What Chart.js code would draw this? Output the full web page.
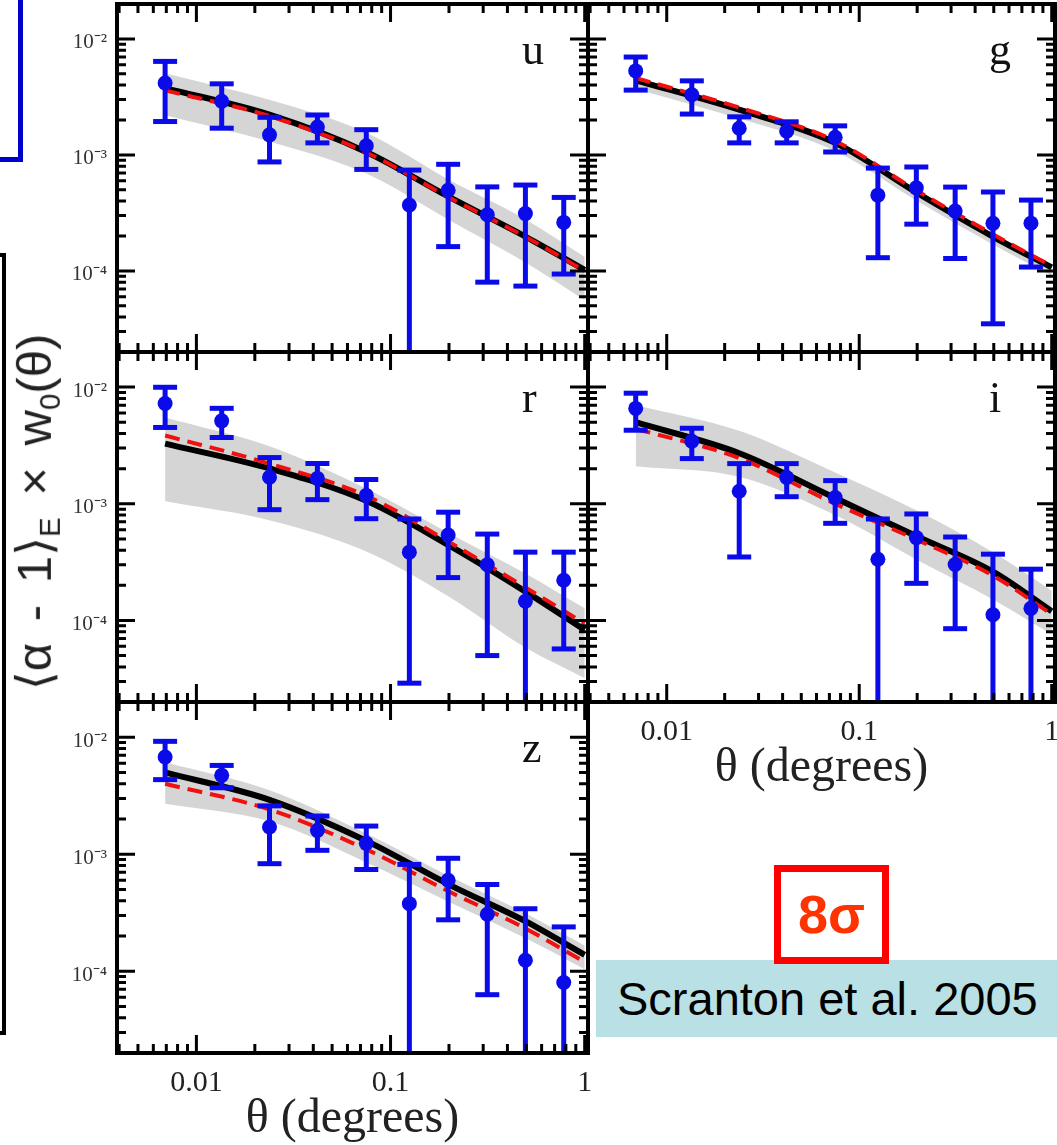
<!DOCTYPE html>
<html>
<head>
<meta charset="utf-8">
<script src="https://cdn.jsdelivr.net/npm/chart.js@4.4.1/dist/chart.umd.min.js"></script>
<style>
  html, body { margin: 0; padding: 0; background: #fff; }
  #wrap { position: relative; width: 1057px; height: 1145px; overflow: hidden; background: #fff; }
  canvas.panel { position: absolute; left: -50px; top: -50px; }
  #blueRect { position: absolute; left: -60px; top: -60px; width: 83px; height: 222px; box-sizing: border-box; border: 5px solid #0000cc; }
  #blackFrame { position: absolute; left: -60px; top: 253px; width: 66px; height: 782px; box-sizing: border-box; border: 4px solid #000; }
  #ytitle { position: absolute; left: 37px; top: 512px; transform: translate(-50%, -50%) rotate(-90deg);
            white-space: nowrap; font-family: "Liberation Sans", "DejaVu Sans", sans-serif; font-size: 49px; color: #222; line-height: 1; word-spacing: 8px; }
  #ytitle sub { font-size: 0.6em; vertical-align: -0.3em; word-spacing: 0; }
  #refBox { position: absolute; left: 596px; top: 960px; width: 470px; height: 77px; background: #b9e0e4;
            font-family: "Liberation Sans", Arial, sans-serif; font-size: 47px; color: #000; line-height: 77px; padding-left: 21px; box-sizing: border-box; white-space: nowrap; }
  #sigmaBox { position: absolute; left: 774px; top: 865px; width: 115px; height: 99px; box-sizing: border-box; border: 7px solid #ff0000; background: #fff;
              font-family: "Liberation Sans", Arial, sans-serif; font-weight: bold; font-size: 54px; color: #ff3300; text-align: center; line-height: 85px; }
</style>
</head>
<body>
<div id="wrap">
  <div id="blueRect"></div>
  <div id="blackFrame"></div>
  <canvas id="cu" class="panel" width="1157" height="1245"></canvas>
  <canvas id="cg" class="panel" width="1157" height="1245"></canvas>
  <canvas id="cr" class="panel" width="1157" height="1245"></canvas>
  <canvas id="ci" class="panel" width="1157" height="1245"></canvas>
  <canvas id="cz" class="panel" width="1157" height="1245"></canvas>
  <div id="ytitle">⟨α - 1⟩<sub>E</sub> × w<sub>0</sub>(θ)</div>
  <div id="refBox">Scranton et al. 2005</div>
  <div id="sigmaBox">8σ</div>
</div>
<script>
// ---------------- data ----------------
const theta      = [0.0069, 0.0135, 0.0238, 0.042, 0.075, 0.125, 0.198, 0.315, 0.495, 0.78];
const thetaModel = [0.0069, 0.024, 0.075, 0.2, 0.5, 1.0];

const xTickValues = [0.01, 0.1, 1];
const xTickLabels = ['0.01', '0.1', '1'];
const yTickValues = [1e-4, 1e-3, 1e-2];
const yTickLabels = ['10\u207B\u2074', '10\u207B\u00B3', '10\u207B\u00B2'];

// u band
const uW      = [4.17e-3, 2.9e-3, 1.49e-3, 1.74e-3, 1.2e-3, 3.7e-4, 4.96e-4, 3.05e-4, 3.12e-4, 2.62e-4];
const uErr    = [2.23e-3, 1.2e-3, 6.2e-4, 4.7e-4, 4.5e-4, 3.7e-4, 3.34e-4, 2.25e-4, 2.38e-4, 1.68e-4];
const uModel  = [3.77e-3, 2.21e-3, 1.06e-3, 4.34e-4, 1.96e-4, 1.02e-4];
const uModel2 = [3.6e-3, 2.15e-3, 1.05e-3, 4.3e-4, 1.95e-4, 1.0e-4];
const uBandHi = [5.07e-3, 2.97e-3, 1.55e-3, 6.1e-4, 2.75e-4, 1.32e-4];
const uBandLo = [2.2e-3, 1.3e-3, 6.9e-4, 2.75e-4, 1.17e-4, 5.6e-5];

// g band
const gW      = [5.3e-3, 3.3e-3, 1.7e-3, 1.6e-3, 1.42e-3, 4.5e-4, 5.2e-4, 3.28e-4, 2.57e-4, 2.58e-4];
const gErr    = [1.68e-3, 1.05e-3, 4.3e-4, 3.3e-4, 3.6e-4, 3.2e-4, 2.67e-4, 2.0e-4, 2.22e-4, 1.5e-4];
const gModel  = [4.4e-3, 2.44e-3, 1.27e-3, 4.7e-4, 1.96e-4, 1.07e-4];
const gModel2 = [4.6e-3, 2.55e-3, 1.32e-3, 4.9e-4, 2.05e-4, 1.1e-4];
const gBandHi = [4.65e-3, 2.6e-3, 1.35e-3, 5.0e-4, 2.1e-4, 1.14e-4];
const gBandLo = [3.7e-3, 2.05e-3, 1.08e-3, 4.0e-4, 1.67e-4, 9.1e-5];

// r band
const rW      = [7.24e-3, 5.14e-3, 1.69e-3, 1.65e-3, 1.18e-3, 3.85e-4, 5.4e-4, 3.0e-4, 1.46e-4, 2.21e-4];
const rErr    = [2.73e-3, 1.44e-3, 8.0e-4, 5.65e-4, 4.35e-4, 3.56e-4, 3.07e-4, 2.5e-4, 2.39e-4, 1.64e-4];
const rModel  = [3.28e-3, 2.0e-3, 1.06e-3, 4.4e-4, 1.75e-4, 8.3e-5];
const rModel2 = [3.85e-3, 2.2e-3, 1.17e-3, 4.7e-4, 1.9e-4, 9.4e-5];
const rBandHi = [5.5e-3, 3.1e-3, 1.35e-3, 5.6e-4, 2.5e-4, 1.27e-4];
const rBandLo = [1.05e-3, 7.2e-4, 3.9e-4, 1.6e-4, 5.8e-5, 3.2e-5];

// i band
const iW      = [6.57e-3, 3.44e-3, 1.28e-3, 1.68e-3, 1.13e-3, 3.35e-4, 5.13e-4, 3.02e-4, 1.12e-4, 1.27e-4];
const iErr    = [2.3e-3, 1.0e-3, 9.3e-4, 5.3e-4, 4.5e-4, 4.06e-4, 3.05e-4, 2.17e-4, 2.58e-4, 1.48e-4];
const iModel  = [5.0e-3, 2.7e-3, 1.12e-3, 5.25e-4, 2.6e-4, 1.2e-4];
const iModel2 = [4.4e-3, 2.45e-3, 1.0e-3, 4.9e-4, 2.4e-4, 1.13e-4];
const iBandHi = [7.0e-3, 4.2e-3, 1.85e-3, 8.7e-4, 3.8e-4, 1.8e-4];
const iBandLo = [2.1e-3, 1.7e-3, 8.0e-4, 3.3e-4, 1.5e-4, 7.6e-5];

// z band
const zW      = [6.78e-3, 4.72e-3, 1.71e-3, 1.6e-3, 1.24e-3, 3.78e-4, 5.99e-4, 3.07e-4, 1.24e-4, 8.02e-5];
const zErr    = [2.44e-3, 1.02e-3, 8.8e-4, 5.2e-4, 5.0e-4, 4.4e-4, 3.24e-4, 2.44e-4, 2.18e-4, 1.59e-4];
const zModel  = [5.0e-3, 2.9e-3, 1.3e-3, 5.5e-4, 2.65e-4, 1.38e-4];
const zModel2 = [4.0e-3, 2.4e-3, 1.1e-3, 4.8e-4, 2.3e-4, 1.2e-4];
const zBandHi = [6.1e-3, 3.5e-3, 1.5e-3, 6.5e-4, 3.1e-4, 1.66e-4];
const zBandLo = [2.7e-3, 1.9e-3, 8.5e-4, 3.9e-4, 1.9e-4, 1.04e-4];

// ---------------- style / layout ----------------
const X_MIN = 0.0039, X_MAX = 1.04;
const Y_MIN = 2e-5, Y_MAX = 2e-2;
const BLUE = '#0b0bea', GREY = '#d5d5d5';
const SERIF = '"Liberation Serif", "Times New Roman", serif';
const CW = 1157, CH = 1245, OFF = 50;   // canvases overhang the page by OFF on every side
const Y_AXIS_W = 60, X_AXIS_H = 90;
const OFF_AXIS = 1e-7; // lower end of error bars that run below the axis (negative)

function xy(xs, ys) { return xs.map((x, i) => ({ x: x, y: ys[i] })); }
function errSegments(xs, w, e) {
  const out = [];
  xs.forEach((x, i) => {
    const lo = w[i] - e[i];
    out.push({ x: x, y: lo > 0 ? lo : OFF_AXIS }, { x: x, y: w[i] + e[i] }, { x: x, y: null });
  });
  return out;
}
function logTickList(min, max, eFrom, eTo) {
  const list = [];
  for (let e = eFrom; e <= eTo; e++) for (let k = 1; k <= 9; k++) {
    const v = k * Math.pow(10, e);
    if (v >= min * 0.999 && v <= max * 1.001) list.push({ v: v, major: k === 1 });
  }
  return list;
}
const xTickList = logTickList(X_MIN, X_MAX, -3, 0);
const yTickList = logTickList(Y_MIN, Y_MAX, -5, -2);

const panelDeco = {
  id: 'panelDeco',
  afterDatasetsDraw(chart, args, opts) {
    const { ctx, chartArea: a, scales: { x, y } } = chart;
    ctx.save();
    ctx.strokeStyle = '#000';
    ctx.lineCap = 'butt';
    ctx.lineWidth = 3;
    ctx.beginPath();
    for (const t of xTickList) {
      const px = x.getPixelForValue(t.v);
      if (px < a.left + 1 || px > a.right - 1) continue;
      const L = t.major ? 18 : 9;
      ctx.moveTo(px, a.top); ctx.lineTo(px, a.top + L);
      ctx.moveTo(px, a.bottom); ctx.lineTo(px, a.bottom - L);
    }
    for (const t of yTickList) {
      const py = y.getPixelForValue(t.v);
      if (py < a.top + 1 || py > a.bottom - 1) continue;
      const L = t.major ? 18 : 9;
      ctx.moveTo(a.left, py); ctx.lineTo(a.left + L, py);
      ctx.moveTo(a.right, py); ctx.lineTo(a.right - L, py);
    }
    ctx.stroke();
    ctx.lineWidth = 4;
    ctx.strokeRect(a.left, a.top, a.right - a.left, a.bottom - a.top);
    ctx.fillStyle = '#111';
    ctx.font = '44px ' + SERIF;
    ctx.textAlign = 'left';
    ctx.textBaseline = 'alphabetic';
    ctx.fillText(opts.letter, a.right - 66, a.top + 60);
    ctx.restore();
  }
};

function zeroPad(s) { s.paddingLeft = 0; s.paddingRight = 0; s.paddingTop = 0; s.paddingBottom = 0; }

function makePanel(id, P) {
  const padLeft = P.L + OFF - (P.showY ? Y_AXIS_W : 0);
  const padRight = CW - (P.R + OFF);
  const padTop = P.T + OFF;
  const padBottom = CH - (P.B + OFF) - (P.showX ? X_AXIS_H : 0);
  return new Chart(document.getElementById(id), {
    type: 'line',
    data: {
      datasets: [
        { data: xy(theta, P.w), showLine: false, pointRadius: 7.5, pointBackgroundColor: BLUE, pointBorderWidth: 0, pointBorderColor: BLUE, order: 0 },
        { data: errSegments(theta, P.w, P.e), borderColor: BLUE, borderWidth: 5, spanGaps: false,
          pointStyle: 'line', pointRadius: 12, pointBorderWidth: 5, pointBorderColor: BLUE, pointBackgroundColor: BLUE, order: 1 },
        { data: xy(thetaModel, P.m2), borderColor: '#f01010', borderWidth: 4, borderDash: [15, 8], pointRadius: 0, cubicInterpolationMode: 'monotone', fill: false, order: 2 },
        { data: xy(thetaModel, P.m), borderColor: '#000', borderWidth: 6, pointRadius: 0, cubicInterpolationMode: 'monotone', fill: false, order: 3 },
        { data: xy(thetaModel, P.hi), borderColor: 'rgba(0,0,0,0)', borderWidth: 1, pointRadius: 0, cubicInterpolationMode: 'monotone', fill: '+1', backgroundColor: GREY, order: 4 },
        { data: xy(thetaModel, P.lo), borderColor: 'rgba(0,0,0,0)', borderWidth: 1, pointRadius: 0, cubicInterpolationMode: 'monotone', fill: false, order: 5 }
      ]
    },
    options: {
      responsive: false, animation: false, devicePixelRatio: 1, events: [],
      layout: { padding: { left: padLeft, right: padRight, top: padTop, bottom: padBottom } },
      plugins: { legend: { display: false }, tooltip: { enabled: false }, panelDeco: { letter: P.letter } },
      scales: {
        x: {
          type: 'logarithmic', min: X_MIN, max: X_MAX, position: 'bottom', display: P.showX,
          grid: { display: false, drawTicks: false }, border: { display: false },
          afterBuildTicks: s => { s.ticks = xTickValues.map(v => ({ value: v })); },
          afterFit: s => { s.height = P.showX ? X_AXIS_H : 0; zeroPad(s); },
          ticks: { display: P.showX, autoSkip: false, maxRotation: 0, minRotation: 0, padding: 12, color: '#222',
                   font: { family: SERIF, size: 30 }, callback: (v, i) => xTickLabels[i] },
          title: { display: P.showX, text: 'θ (degrees)', color: '#222', padding: 0, font: { family: SERIF, size: 48, lineHeight: 1 } }
        },
        y: {
          type: 'logarithmic', min: Y_MIN, max: Y_MAX, position: 'left', display: P.showY,
          grid: { display: false, drawTicks: false }, border: { display: false },
          afterBuildTicks: s => { s.ticks = yTickValues.map(v => ({ value: v })); },
          afterFit: s => { s.width = P.showY ? Y_AXIS_W : 0; zeroPad(s); },
          ticks: { display: P.showY, autoSkip: false, padding: 10, color: '#333', labelOffset: 4,
                   font: { family: SERIF, size: 21 }, callback: (v, i) => yTickLabels[i] }
        }
      }
    },
    plugins: [panelDeco]
  });
}

const panels = [
  { id: 'cu', letter: 'u', L: 117, R: 588, T: 4,   B: 352,  showY: true,  showX: false, w: uW, e: uErr, m: uModel, m2: uModel2, hi: uBandHi, lo: uBandLo },
  { id: 'cg', letter: 'g', L: 588, R: 1055, T: 4,  B: 352,  showY: false, showX: false, w: gW, e: gErr, m: gModel, m2: gModel2, hi: gBandHi, lo: gBandLo },
  { id: 'cr', letter: 'r', L: 117, R: 588, T: 352, B: 702,  showY: true,  showX: false, w: rW, e: rErr, m: rModel, m2: rModel2, hi: rBandHi, lo: rBandLo },
  { id: 'ci', letter: 'i', L: 588, R: 1055, T: 352, B: 702, showY: false, showX: true,  w: iW, e: iErr, m: iModel, m2: iModel2, hi: iBandHi, lo: iBandLo },
  { id: 'cz', letter: 'z', L: 117, R: 588, T: 702, B: 1053, showY: true,  showX: true,  w: zW, e: zErr, m: zModel, m2: zModel2, hi: zBandHi, lo: zBandLo }
];
panels.forEach(P => makePanel(P.id, P));
</script>
</body>
</html>
